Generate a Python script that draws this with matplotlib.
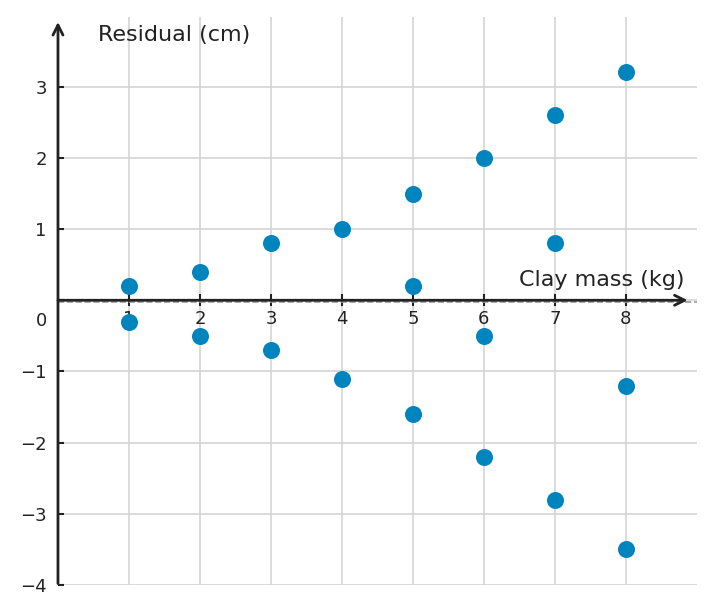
import matplotlib
matplotlib.use("Agg")
import matplotlib.pyplot as plt

# residuals at each clay mass (kg)
mass = [1, 1, 2, 2, 3, 3, 4, 4, 5, 5, 5, 6, 6, 6, 7, 7, 7, 8, 8, 8]
resid = [0.2, -0.3, 0.4, -0.5, 0.8, -0.7, 1.0, -1.1,
         1.5, 0.2, -1.6, 2.0, -0.5, -2.2, 2.6, 0.8, -2.8, 3.2, -1.2, -3.5]

xticks = [1, 2, 3, 4, 5, 6, 7, 8]
yticks = [-4, -3, -2, -1, 0, 1, 2, 3]
ytick_labels = ['\u22124', '\u22123', '\u22122', '\u22121', '', '1', '2', '3']

fig = plt.figure(figsize=(7.14, 6.13), dpi=100)
ax = fig.add_axes([0.0812, 0.0457, 0.8948, 0.9266])

ax.set_xlim(0, 9)
ax.set_ylim(-4, 3.98)

for s in ax.spines.values():
    s.set_visible(False)

ax.grid(True, color='#d4d4d4', linewidth=1.2)
ax.set_axisbelow(True)

ax.spines['bottom'].set_position(('data', 0))
ax.set_xticks(xticks)
ax.set_yticks(yticks)
ax.set_yticklabels(ytick_labels)
ax.tick_params(axis='x', direction='inout', length=8, width=1.5, colors='#222222',
               labelsize=13, pad=3)
ax.tick_params(axis='y', direction='in', length=4, width=1.5, colors='#222222',
               labelsize=13, pad=8)

ax.axhline(-0.02, color='#999999', linestyle='--', linewidth=1.2, zorder=1)

# axis arrows
ax.annotate('', xy=(8.87, 0), xytext=(0, 0),
            arrowprops=dict(arrowstyle='->', color='#222222', lw=2,
                            mutation_scale=18, shrinkA=0, shrinkB=0), zorder=2)
ax.annotate('', xy=(0, 3.91), xytext=(0, -3.98),
            arrowprops=dict(arrowstyle='->', color='#222222', lw=2,
                            mutation_scale=18, shrinkA=0, shrinkB=0),
            annotation_clip=False, zorder=2)

ax.scatter(mass, resid, s=150, color='#0084bd', zorder=3, linewidths=0)

ax.text(-0.15, -0.29, '0', ha='right', va='center', fontsize=13, color='#222222')
ax.text(0.56, 3.73, 'Residual (cm)', ha='left', va='center', fontsize=16, color='#222222')
ax.text(8.83, 0.29, 'Clay mass (kg)', ha='right', va='center', fontsize=16, color='#222222')

fig.savefig('out.png', dpi=100)
